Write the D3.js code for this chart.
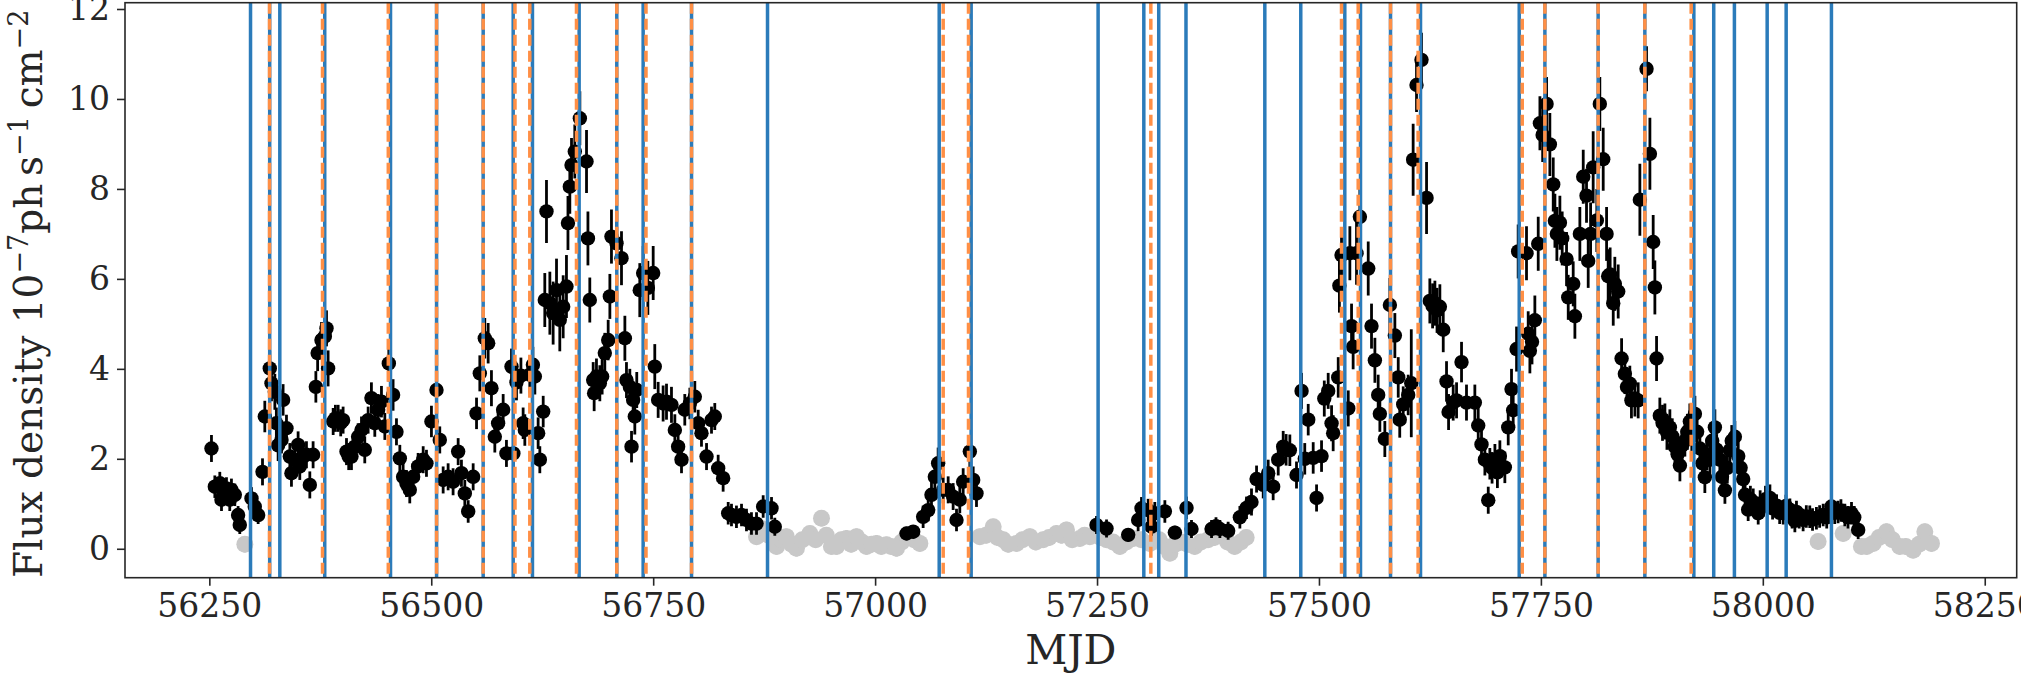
<!DOCTYPE html>
<html><head><meta charset="utf-8">
<script src="https://cdn.jsdelivr.net/npm/d3@7"></script>
<style>
html,body{margin:0;padding:0;background:#fff;}
svg{display:block;}
text{font-family:"DejaVu Serif",serif;fill:#262626;}
</style></head><body>
<svg id="chart" width="2021" height="676"></svg>
<script>
// ---- data: [MJD, flux (1e-7 ph s^-1 cm^-2), error] ----
const fluxPoints = [
[56252.4,2.23,0.3],[56256.2,1.38,0.25],[56261.8,1.46,0.25],[56263.7,1.09,0.25],[56265.6,1.2,0.25],
[56269.3,1.34,0.25],[56273.0,1.09,0.25],[56274.9,1.31,0.25],[56278.7,1.2,0.25],[56282.4,0.75,0.2],
[56284.3,0.53,0.2],[56297.5,1.12,0.25],[56301.2,0.94,0.25],[56305.0,0.75,0.2],[56309.9,1.71,0.3],
[56312.5,2.94,0.35],[56318.1,4.01,0.4],[56320.0,3.68,0.4],[56323.8,3.49,0.4],[56325.5,2.79,0.35],
[56327.5,2.3,0.35],[56331.3,2.42,0.3],[56333.1,3.31,0.35],[56336.9,2.68,0.3],[56340.7,2.05,0.3],
[56342.5,1.68,0.3],[56346.3,1.98,0.3],[56350.0,2.31,0.3],[56351.9,1.83,0.3],[56355.7,2.05,0.3],
[56359.4,2.09,0.3],[56363.2,1.42,0.3],[56366.9,2.09,0.3],[56370.0,3.6,0.35],[56372.0,4.35,0.4],
[56376.3,4.64,0.4],[56380.1,4.72,0.4],[56382.0,4.9,0.4],[56383.8,4.01,0.4],[56389.5,2.83,0.3],
[56392.0,2.9,0.3],[56395.1,2.9,0.3],[56398.0,2.8,0.3],[56400.7,2.86,0.3],[56404.5,2.16,0.3],
[56407.0,2.05,0.3],[56410.1,2.05,0.3],[56413.9,2.27,0.3],[56417.6,2.49,0.3],[56421.4,2.64,0.3],
[56425.1,2.2,0.3],[56428.9,2.86,0.3],[56432.6,3.35,0.35],[56436.4,2.79,0.3],[56440.2,3.09,0.35],
[56443.9,3.27,0.35],[56447.7,2.72,0.3],[56452.2,4.12,0.4],[56457.0,3.42,0.35],[56460.8,2.6,0.3],
[56464.6,2.01,0.3],[56468.3,1.6,0.3],[56472.1,1.45,0.3],[56475.8,1.31,0.3],[56479.6,1.6,0.3],
[56485.2,1.83,0.3],[56490.9,1.98,0.3],[56494.6,1.9,0.3],[56500.2,2.83,0.35],[56505.9,3.53,0.35],
[56509.6,2.42,0.3],[56513.4,1.53,0.3],[56519.0,1.6,0.3],[56524.6,1.49,0.3],[56530.3,2.16,0.3],
[56534.0,1.68,0.3],[56537.8,1.23,0.3],[56541.6,0.83,0.25],[56547.2,1.6,0.3],[56551.0,3.01,0.35],
[56554.7,3.9,0.4],[56560.3,4.68,0.45],[56564.1,4.57,0.45],[56567.8,3.57,0.4],[56571.6,2.49,0.35],
[56575.3,2.79,0.35],[56581.0,3.09,0.35],[56584.7,2.12,0.3],[56590.4,4.05,0.4],[56592.5,2.12,0.35],
[56596.0,3.7,0.4],[56601.0,3.85,0.4],[56603.5,2.79,0.35],[56605.4,2.64,0.35],[56611.0,3.87,0.4],
[56614.5,4.09,0.4],[56616.7,3.83,0.4],[56620.4,2.57,0.35],[56622.3,1.98,0.3],[56626.1,3.05,0.35],
[56627.9,5.53,0.6],[56629.8,7.5,0.7],[56633.6,5.46,0.7],[56637.3,5.24,0.7],[56641.1,5.75,0.7],
[56644.8,5.09,0.7],[56648.6,5.38,0.7],[56652.3,5.83,0.7],[56654.0,7.24,0.6],[56656.1,8.05,0.6],
[56658.0,8.53,0.6],[56661.7,8.83,0.6],[56667.4,9.57,0.6],[56674.9,8.61,0.7],[56676.5,6.9,0.6],
[56678.6,5.53,0.5],[56682.4,3.75,0.4],[56683.5,3.46,0.4],[56686.1,3.83,0.4],[56689.9,3.68,0.4],
[56692.5,3.83,0.4],[56695.5,4.35,0.45],[56699.3,4.64,0.45],[56701.2,5.61,0.5],[56703.0,6.94,0.6],
[56708.7,6.79,0.6],[56714.3,6.46,0.6],[56718.1,4.68,0.5],[56719.9,3.75,0.4],[56723.7,3.6,0.4],
[56725.6,2.27,0.35],[56727.4,3.31,0.4],[56729.3,2.94,0.4],[56731.5,3.53,0.4],[56734.9,5.75,0.6],
[56738.7,6.13,0.6],[56744.0,5.8,0.6],[56750.0,6.13,0.6],[56751.8,4.05,0.5],[56755.6,3.31,0.4],
[56761.2,3.23,0.4],[56765.0,3.27,0.4],[56770.6,3.2,0.4],[56774.4,2.64,0.35],[56778.1,2.27,0.35],
[56781.9,1.98,0.3],[56785.6,3.09,0.35],[56791.3,3.23,0.35],[56796.9,3.38,0.35],[56800.7,2.79,0.3],
[56804.4,2.57,0.3],[56810.1,2.05,0.3],[56815.7,2.86,0.3],[56819.4,2.94,0.3],[56823.2,1.79,0.3],
[56828.8,1.57,0.3],[56834.5,0.79,0.25],[56838.2,0.75,0.25],[56843.8,0.71,0.25],[56849.5,0.75,0.25],
[56855.1,0.64,0.25],[56860.7,0.56,0.25],[56866.4,0.56,0.25],[56873.9,0.94,0.25],[56883.3,0.9,0.25],
[56887.0,0.49,0.2],
[57035.4,0.34,0.15],[57042.9,0.38,0.15],[57054.1,0.71,0.25],[57059.8,0.86,0.25],[57063.5,1.2,0.3],
[57067.3,1.6,0.3],[57071.0,1.9,0.35],[57076.7,1.31,0.3],[57082.3,1.31,0.3],[57087.9,1.16,0.3],
[57091.7,0.64,0.25],[57095.4,1.09,0.3],[57099.2,1.49,0.3],[57106.7,2.16,0.35],[57110.5,1.53,0.3],
[57114.2,1.23,0.3],
[57249.4,0.53,0.2],[57260.7,0.45,0.2],[57285.1,0.31,0.15],[57296.3,0.64,0.25],[57300.1,0.9,0.25],
[57307.6,0.86,0.25],[57311.4,0.49,0.2],[57315.1,0.79,0.25],[57326.4,0.83,0.25],[57337.7,0.36,0.15],
[57350.8,0.91,0.25],[57356.4,0.44,0.2],[57379.0,0.44,0.2],[57384.0,0.5,0.2],[57388.4,0.44,0.2],
[57397.7,0.4,0.2],[57410.9,0.7,0.25],[57418.4,0.91,0.25],[57424.0,1.04,0.3],[57429.7,1.55,0.3],
[57437.2,1.42,0.3],[57442.8,1.68,0.3],[57448.4,1.38,0.3],[57454.1,1.98,0.35],[57459.7,2.27,0.35],
[57463.0,2.2,0.35],[57467.2,2.19,0.35],[57474.7,1.64,0.3],[57480.4,3.51,0.4],[57484.0,2.0,0.35],
[57487.9,2.87,0.35],[57493.5,2.02,0.35],[57497.3,1.13,0.3],[57502.9,2.06,0.35],[57506.0,3.34,0.4],
[57510.4,3.51,0.4],[57514.2,2.79,0.4],[57516.0,2.57,0.4],[57521.7,3.81,0.45],[57523.0,5.85,0.6],
[57525.4,6.53,0.6],[57533.0,3.12,0.4],[57534.8,6.57,0.6],[57536.7,4.95,0.5],[57538.5,4.49,0.5],
[57542.3,6.57,0.7],[57546.1,7.38,0.7],[57555.5,6.23,0.6],[57559.2,4.95,0.5],[57563.0,4.19,0.5],
[57566.7,3.42,0.45],[57568.6,3.0,0.4],[57574.2,2.44,0.4],[57579.9,5.42,0.6],[57585.5,4.74,0.5],
[57589.3,3.81,0.45],[57591.0,2.87,0.4],[57594.9,3.21,0.4],[57600.5,3.42,0.45],[57604.0,3.68,1.2],
[57606.1,8.65,0.8],[57609.9,10.31,0.6],[57615.5,10.87,0.6],[57621.2,7.8,0.8],[57624.9,5.51,0.5],
[57628.0,5.4,0.5],[57630.6,5.46,0.5],[57633.0,5.3,0.5],[57636.2,5.38,0.5],[57640.0,4.87,0.5],
[57643.7,3.72,0.45],[57646.0,3.04,0.4],[57651.2,3.25,0.4],[57655.0,3.3,0.4],[57660.6,4.15,0.45],
[57666.2,3.25,0.4],[57675.6,3.25,0.4],[57679.4,2.74,0.4],[57683.1,2.32,0.35],[57686.9,1.98,0.35],
[57690.7,1.08,0.3],[57692.5,1.89,0.35],[57695.0,1.8,0.35],[57698.2,1.98,0.35],[57701.0,1.7,0.35],
[57703.8,2.06,0.35],[57709.4,1.81,0.35],[57713.2,2.7,0.4],[57716.9,3.55,0.45],[57718.8,3.08,0.4],
[57722.6,4.44,0.5],[57724.4,6.61,0.6],[57733.8,6.57,0.6],[57735.7,4.78,0.5],[57737.6,4.4,0.5],
[57740.0,4.6,0.5],[57743.2,5.08,0.55],[57747.0,6.78,0.6],[57748.9,9.46,0.6],[57752.0,9.2,0.6],
[57756.4,9.89,0.6],[57760.1,8.99,0.7],[57763.9,8.1,0.6],[57765.8,7.29,0.6],[57768.0,7.0,0.6],
[57771.4,7.25,0.6],[57774.0,6.9,0.6],[57778.9,6.44,0.6],[57780.8,5.59,0.5],[57786.4,5.89,0.5],
[57788.3,5.17,0.5],[57793.9,7.0,0.6],[57797.7,8.27,0.6],[57801.4,7.85,0.6],[57803.3,6.4,0.6],
[57806.0,7.0,0.7],[57808.9,8.48,0.8],[57813.0,7.3,0.7],[57816.4,9.89,0.6],[57820.2,8.66,0.7],
[57824.0,7.0,0.6],[57825.8,6.06,0.6],[57828.0,6.1,0.6],[57831.5,5.46,0.5],[57833.3,5.89,0.6],
[57837.1,5.72,0.6],[57840.9,4.23,0.45],[57844.6,3.89,0.45],[57847.0,3.6,0.4],[57850.2,3.67,0.4],
[57852.0,3.3,0.4],[57855.9,3.34,0.4],[57859.6,3.3,0.4],[57861.5,7.76,0.8],[57869.0,10.67,0.5],
[57872.8,8.78,0.8],[57876.5,6.82,0.6],[57878.4,5.81,0.6],[57880.3,4.23,0.5],[57884.0,2.96,0.4],
[57887.0,2.8,0.4],[57889.7,2.83,0.4],[57892.0,2.6,0.4],[57895.3,2.7,0.4],[57898.0,2.5,0.4],
[57901.0,2.27,0.35],[57904.0,2.1,0.35],[57906.6,1.85,0.35],[57909.0,2.3,0.35],[57912.2,2.4,0.35],
[57915.0,2.6,0.4],[57917.8,2.83,0.4],[57920.0,2.5,0.4],[57923.5,3.0,0.4],[57926.0,2.6,0.4],
[57929.1,2.23,0.35],[57932.0,1.9,0.35],[57934.7,1.59,0.35],[57937.0,2.1,0.35],[57940.4,1.98,0.35],
[57943.0,2.4,0.4],[57946.0,2.7,0.4],[57948.0,2.2,0.35],[57951.6,1.98,0.35],[57954.0,1.6,0.35],
[57957.3,1.3,0.3],[57960.0,1.8,0.35],[57962.9,2.19,0.35],[57965.0,2.4,0.35],[57968.5,2.49,0.35],
[57972.3,2.06,0.35],[57975.0,1.8,0.3],[57977.9,1.55,0.3],[57980.0,1.2,0.3],[57983.5,0.87,0.25],
[57986.0,1.1,0.3],[57989.2,1.04,0.3],[57992.0,0.9,0.25],[57994.8,0.79,0.25],[57997.0,1.0,0.3],
[58000.4,0.96,0.25],[58003.0,1.1,0.3],[58008.0,1.13,0.3],[58011.0,0.9,0.25],[58015.5,0.96,0.25],
[58019.0,0.8,0.25],[58023.0,0.79,0.25],[58026.0,0.95,0.25],[58030.5,0.87,0.25],[58033.0,0.7,0.25],
[58036.1,0.62,0.25],[58037.9,0.82,0.25],[58041.0,0.7,0.25],[58045.4,0.64,0.25],[58049.0,0.72,0.25],
[58052.9,0.71,0.25],[58056.0,0.65,0.25],[58060.4,0.68,0.25],[58064.0,0.72,0.25],[58068.0,0.75,0.25],
[58072.0,0.7,0.25],[58077.3,0.94,0.25],[58081.0,0.8,0.25],[58084.8,0.82,0.25],[58088.0,0.85,0.25],
[58092.4,0.75,0.25],[58096.0,0.7,0.25],[58099.9,0.79,0.25],[58103.0,0.7,0.25],[58107.4,0.42,0.2]
];
// low-significance points (grey): [MJD, flux]
const greyPoints = [
[56290,0.1],[56866.4,0.27],[56872,0.45],[56880,0.3],[56889,0.05],[56895,0.2],[56900,0.27],[56906,0.1],
[56911.4,0.01],[56918,0.2],[56926.5,0.34],[56933,0.2],[56939.6,0.68],[56945,0.3],[56950.8,0.05],
[56956.5,0.05],[56962,0.2],[56967.8,0.23],[56973,0.1],[56979,0.27],[56985,0.15],[56990.3,0.05],
[56996,0.1],[57001.6,0.12],[57007,0.05],[57012.8,0.09],[57018,0.05],[57024.1,0.01],[57030,0.15],
[57035.4,0.27],[57044,0.2],[57050.4,0.12],
[57118,0.27],[57125,0.3],[57133,0.49],[57138,0.25],[57144.3,0.2],[57150,0.1],[57159.3,0.12],
[57166,0.2],[57174.3,0.27],[57181,0.15],[57189.3,0.2],[57196,0.25],[57204.3,0.34],[57210,0.3],
[57215.6,0.42],[57222,0.2],[57230.6,0.23],[57236,0.3],[57241.9,0.27],[57254,0.25],[57260.7,0.2],
[57268,0.15],[57275.7,0.05],[57283,0.15],[57290.7,0.23],[57300,0.2],[57309.5,0.12],[57320,0.2],
[57326,0.05],[57332,-0.1],[57338,0.1],[57345,0.15],[57352,0.1],[57360,0.05],[57367,0.15],
[57375,0.2],[57382,0.25],[57390,0.3],[57397,0.15],[57405,0.05],[57412,0.15],[57418,0.25],
[58062.3,0.16],[58090.5,0.34],[58111.1,0.05],[58117,0.05],[58124.3,0.12],[58131,0.25],
[58139.3,0.38],[58146,0.2],[58154.3,0.05],[58161,0.05],[58169.3,-0.03],[58176,0.1],
[58182.5,0.38],[58190,0.12]
];
// vertical markers
const blueLines = [56296.4,56318,56329.4,56380,56454.1,56506,56558.5,56592.3,56614,56666.6,56709,
  56738.7,56793.2,56878.8,57072.2,57108.2,57251.2,57302.7,57319.5,57350.2,57439,57479.5,57529.1,
  57546.8,57580.6,57614.4,57725.6,57754.5,57814.5,57867.1,57922.3,57944.7,57968,58004.9,58026.3,58077.3];
const orangeLines = [56317.8,56377.5,56451.6,56506,56558.5,56594.3,56611,56663.6,56709,56741.9,
  56793.2,57076.7,57105.2,57310.6,57525.4,57544.2,57580.6,57611.7,57729,57754.5,57814.5,57867.1,57919.3];
const xTickValues = [56250,56500,56750,57000,57250,57500,57750,58000,58250];
const yTickValues = [0,2,4,6,8,10,12];
const xDomain = [56155, 58286];
const yDomain = [-0.643, 12.14];

// ---- layout ----
const W = 2021, H = 676;
const plot = {left:125, right:2016.7, top:2.7, bottom:577.7};
const svg = d3.select('#chart');
const x = d3.scaleLinear().domain(xDomain).range([plot.left, plot.right]);
const y = d3.scaleLinear().domain(yDomain).range([plot.bottom, plot.top]);

svg.append('defs').append('clipPath').attr('id','clip')
  .append('rect').attr('x',plot.left).attr('y',plot.top)
  .attr('width',plot.right-plot.left).attr('height',plot.bottom-plot.top);
const g = svg.append('g').attr('clip-path','url(#clip)');

// grey points
const gg = g.append('g');
gg.selectAll('line').data(greyPoints).join('line')
  .attr('x1',d=>x(d[0])).attr('x2',d=>x(d[0]))
  .attr('y1',d=>y(d[1]-0.18)).attr('y2',d=>y(d[1]+0.18))
  .attr('stroke','#c8c8c8').attr('stroke-width',3);
gg.selectAll('circle').data(greyPoints).join('circle')
  .attr('cx',d=>x(d[0])).attr('cy',d=>y(d[1])).attr('r',8.5).attr('fill','#c8c8c8');

// black points with error bars
const bg = g.append('g');
bg.selectAll('line').data(fluxPoints).join('line')
  .attr('x1',d=>x(d[0])).attr('x2',d=>x(d[0]))
  .attr('y1',d=>y(d[1]-d[2])).attr('y2',d=>y(d[1]+d[2]))
  .attr('stroke','#000').attr('stroke-width',2.8);
bg.selectAll('circle').data(fluxPoints).join('circle')
  .attr('cx',d=>x(d[0])).attr('cy',d=>y(d[1])).attr('r',7.2).attr('fill','#000');

// vertical lines
g.append('g').selectAll('line').data(blueLines).join('line')
  .attr('x1',d=>x(d)).attr('x2',d=>x(d)).attr('y1',plot.top).attr('y2',plot.bottom)
  .attr('stroke','#2b7bba').attr('stroke-width',3.5);
g.append('g').selectAll('line').data(orangeLines).join('line')
  .attr('x1',d=>x(d)).attr('x2',d=>x(d)).attr('y1',plot.top).attr('y2',plot.bottom)
  .attr('stroke','#ff8f45').attr('stroke-width',3.5).attr('stroke-dasharray','11,5');

// frame
svg.append('rect').attr('x',plot.left).attr('y',plot.top)
  .attr('width',plot.right-plot.left).attr('height',plot.bottom-plot.top)
  .attr('fill','none').attr('stroke','#262626').attr('stroke-width',1.6);

// axes
const xAxis = d3.axisBottom(x).tickValues(xTickValues).tickFormat(d3.format('d')).tickSize(8).tickPadding(8);
const xa = svg.append('g').attr('transform',`translate(0,${plot.bottom})`).call(xAxis);
const yAxis = d3.axisLeft(y).tickValues(yTickValues).tickFormat(d3.format('d')).tickSize(8).tickPadding(7);
const ya = svg.append('g').attr('transform',`translate(${plot.left},0)`).call(yAxis);
[xa,ya].forEach(a=>{
  a.select('.domain').remove();
  a.selectAll('.tick line').attr('stroke','#262626').attr('stroke-width',1.6);
  a.selectAll('.tick text').attr('font-family','"DejaVu Serif", serif').attr('font-size',33).attr('fill','#262626');
});

// axis labels
svg.append('text').attr('x',(plot.left+plot.right)/2).attr('y',664)
  .attr('text-anchor','middle').attr('font-size',41).text('MJD');

const yl = svg.append('text').attr('transform','translate(42,578) rotate(-90)')
  .attr('text-anchor','start').attr('font-size',39);
yl.append('tspan').text('Flux density 10');
yl.append('tspan').attr('dy',-14).attr('font-size',27).text('\u22127');
yl.append('tspan').attr('dy',14).text('ph\u2009s');
yl.append('tspan').attr('dy',-14).attr('font-size',27).text('\u22121');
yl.append('tspan').attr('dy',14).text('\u2009cm');
yl.append('tspan').attr('dy',-14).attr('font-size',27).text('\u22122');
</script>
</body></html>
